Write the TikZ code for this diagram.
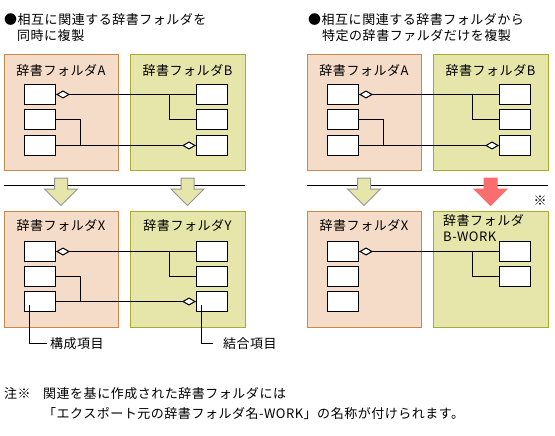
\documentclass[tikz,border=0pt]{standalone}
\usepackage{fontspec}
\setmainfont[LetterSpace=4]{Noto Sans CJK JP}
\usetikzlibrary{arrows.meta}
\definecolor{peachfill}{RGB}{245,220,200}
\definecolor{peachline}{RGB}{200,135,75}
\definecolor{olivefill}{RGB}{230,230,170}
\definecolor{oliveline}{RGB}{170,170,50}
\definecolor{arrowgray}{RGB}{150,150,150}
\definecolor{arrowred}{RGB}{250,110,110}
\newcommand\mydownarrow[3]{%
  \filldraw[fill=#2,draw=#3,line width=1pt]
    (#1-6.5,178) -- (#1+6.5,178) -- (#1+6.5,189) -- (#1+16.5,189) --
    (#1,205.5) -- (#1-16.5,189) -- (#1-6.5,189) -- cycle;}
\begin{document}
\begin{tikzpicture}[x=1pt,y=-1pt,
  every node/.style={font=\fontsize{13}{15}\selectfont, inner sep=0pt},
  peachbox/.style={draw=peachline, fill=peachfill, line width=1pt,
    minimum width=114pt, minimum height=116pt, anchor=north west},
  olivebox/.style={draw=oliveline, fill=olivefill, line width=1pt,
    minimum width=115pt, minimum height=116pt, anchor=north west},
  item/.style={draw=black, fill=white, line width=1pt,
    minimum width=31pt, minimum height=20pt, anchor=north west},
  conn/.style={line width=1pt, black},
  dstart/.style={conn, {Diamond[fill=white, length=14pt, width=8pt, line width=1pt]}-},
  dend/.style={conn, -{Diamond[fill=white, length=14pt, width=8pt, line width=1pt]}},
  lbl/.style={anchor=west}]
\useasboundingbox (0,0) rectangle (555,436);
\fill[white] (0,0) rectangle (555,436);

% titles
\node[lbl] (t1) at (4,20) {●相互に関連する辞書フォルダを};
\node[lbl] (t2) at (17,36) {同時に複製};
\node[lbl] (t3) at (308,20) {●相互に関連する辞書フォルダから};
\node[lbl] (t4) at (322,36) {特定の辞書ファルダだけを複製};

% ===== top left =====
\node[peachbox] (fa) at (4,54) {};
\node[olivebox] (fb) at (130,54) {};
\node (la) at (61,70.5) {辞書フォルダA};
\node (lb) at (187.5,70.5) {辞書フォルダB};
\node[item] (a1) at (24,84) {};
\node[item] (a2) at (24,109) {};
\node[item] (a3) at (24,135) {};
\node[item] (b1) at (196,84) {};
\node[item] (b2) at (196,109) {};
\node[item] (b3) at (196,135) {};
\draw[dstart] (a1.east) -- (b1.west);
\coordinate (ja) at (169,94);
\draw[conn] (ja) |- (b2.west);
\coordinate (ma) at (80,145);
\draw[conn] (a2.east) -| (ma);
\draw[dend] (a3.east) -- (b3.west);

% ===== top right =====
\node[peachbox] (rfa) at (307,54) {};
\node[olivebox] (rfb) at (433,54) {};
\node (rla) at (364,70.5) {辞書フォルダA};
\node (rlb) at (490.5,70.5) {辞書フォルダB};
\node[item] (ra1) at (327,84) {};
\node[item] (ra2) at (327,109) {};
\node[item] (ra3) at (327,135) {};
\node[item] (rb1) at (499,84) {};
\node[item] (rb2) at (499,109) {};
\node[item] (rb3) at (499,135) {};
\draw[dstart] (ra1.east) -- (rb1.west);
\coordinate (rja) at (472,94);
\draw[conn] (rja) |- (rb2.west);
\coordinate (rma) at (383,145);
\draw[conn] (ra2.east) -| (rma);
\draw[dend] (ra3.east) -- (rb3.west);

% separators and arrows
\coordinate (s1) at (4,185);
\coordinate (s2) at (245,185);
\coordinate (s3) at (307,185);
\coordinate (s4) at (548,185);
\draw[conn] (s1) -- (s2);
\draw[conn] (s3) -- (s4);
\mydownarrow{61}{olivefill}{arrowgray}
\mydownarrow{187.5}{olivefill}{arrowgray}
\mydownarrow{364}{olivefill}{arrowgray}
\mydownarrow{490.5}{arrowred}{arrowred}
\node (kome) at (540,201) {※};

% ===== bottom left =====
\node[peachbox] (fx) at (4,211) {};
\node[olivebox] (fy) at (130,211) {};
\node (lx) at (61,225.5) {辞書フォルダX};
\node (ly) at (187.5,225.5) {辞書フォルダY};
\node[item] (x1) at (24,241) {};
\node[item] (x2) at (24,266) {};
\node[item] (x3) at (24,291) {};
\node[item] (y1) at (196,241) {};
\node[item] (y2) at (196,266) {};
\node[item] (y3) at (196,291) {};
\draw[dstart] (x1.east) -- (y1.west);
\coordinate (jx) at (169,251);
\draw[conn] (jx) |- (y2.west);
\coordinate (mx) at (80,301);
\draw[conn] (x2.east) -| (mx);
\draw[dend] (x3.east) -- (y3.west);

% callouts
\node[lbl] (kosei) at (50,343.5) {構成項目};
\node[lbl] (ketsu) at (223,343.5) {結合項目};
\coordinate (cx) at (29.5,305);
\coordinate (cy) at (201.5,305);
\draw[conn] (cx) |- ([xshift=-3pt]kosei.west);
\draw[conn] (cy) |- ([xshift=-10pt]ketsu.west);

% ===== bottom right =====
\node[peachbox] (rfx) at (307,211) {};
\node[olivebox] (rfw) at (433,211) {};
\node (rlx) at (364,225.5) {辞書フォルダX};
\node[lbl] (rlw1) at (443,220.5) {辞書フォルダ};
\node[lbl] (rlw2) at (443,237) {B-WORK};
\node[item] (rx1) at (327,241) {};
\node[item] (rx2) at (327,266) {};
\node[item] (rx3) at (327,291) {};
\node[item] (rw1) at (499,241) {};
\node[item] (rw2) at (499,266) {};
\draw[dstart] (rx1.east) -- (rw1.west);
\coordinate (rjx) at (472,251);
\draw[conn] (rjx) |- (rw2.west);

% note
\node[lbl] (n0) at (4,393.5) {注※};
\node[lbl] (n1) at (43,393.5) {関連を基に作成された辞書フォルダには};
\node[lbl] (n2) at (43,413.5) {「エクスポート元の辞書フォルダ名-WORK」の名称が付けられます。};
\end{tikzpicture}
\end{document}
